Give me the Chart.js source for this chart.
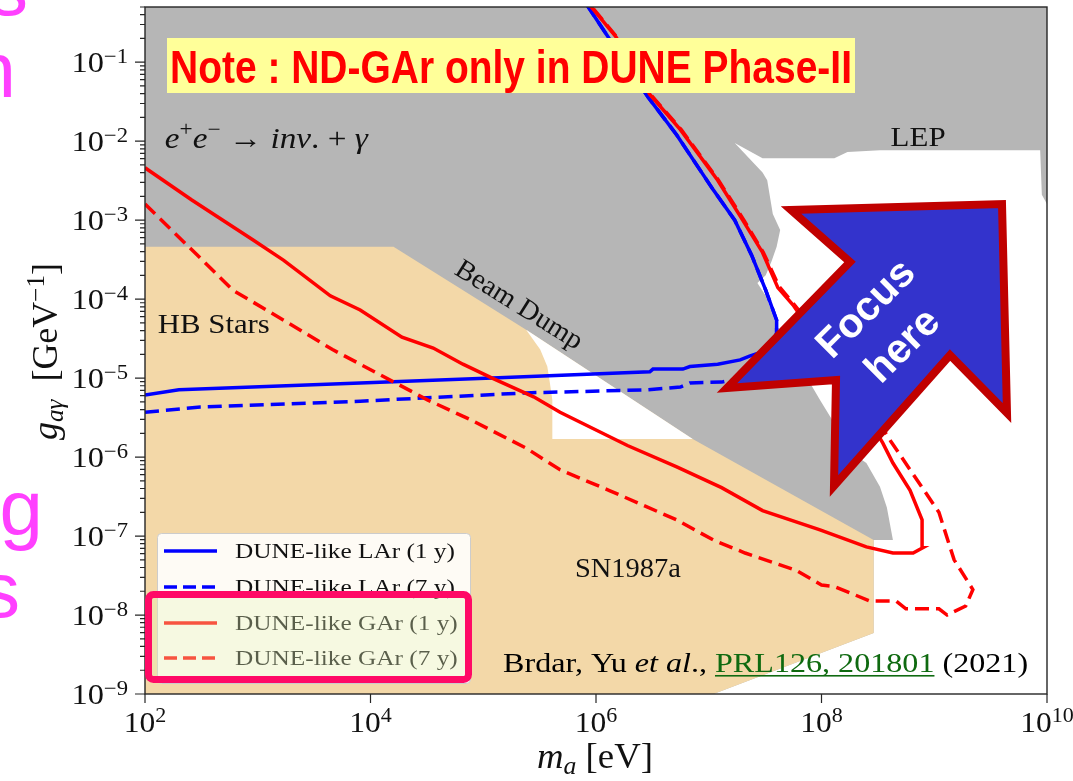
<!DOCTYPE html>
<html>
<head>
<meta charset="utf-8">
<title>DUNE-like axion reach</title>
<script src="https://cdn.jsdelivr.net/npm/chart.js@4.4.1/dist/chart.umd.min.js"></script>
<style>
  html, body { margin: 0; padding: 0; background: #fff; overflow: hidden; }
  canvas { display: block; }
</style>
</head>
<body>
<canvas id="reachChart" width="1073" height="781"></canvas>
<script>
// m_a in eV, g_agamma in GeV^-1

// DUNE-like LAr (1 y)
const larOneMass = [1.0e2, 2.0e2, 8.1e3, 1.2e5, 3.0e6, 3.2e6, 5.9e6, 6.8e6, 1.2e7, 1.9e7, 2.3e7, 3.4e7, 4.0e7, 4.0e7, 3.2e7, 2.4e7, 1.7e7, 1.1e7, 5.2e6, 2.9e6, 8.1e5];
const larOneCoupling = [6.1e-6, 7.1e-6, 8.7e-6, 1.0e-5, 1.2e-5, 1.3e-5, 1.3e-5, 1.4e-5, 1.5e-5, 1.7e-5, 1.9e-5, 2.3e-5, 3.7e-5, 5.4e-5, 1.3e-4, 3.6e-4, 1.0e-3, 2.4e-3, 1.2e-2, 3.6e-2, 0.56];

// DUNE-like LAr (7 y)
const larSevenMass = [1.0e2, 3.1e2, 8.1e3, 2.4e5, 2.8e6, 5.6e6, 6.8e6, 1.3e7, 1.9e7, 3.5e7, 4.0e7, 4.0e7, 3.2e7, 2.4e7, 1.7e7, 1.1e7, 5.2e6, 2.9e6, 8.1e5];
const larSevenCoupling = [3.7e-6, 4.3e-6, 5.1e-6, 6.5e-6, 7.1e-6, 7.7e-6, 8.7e-6, 8.9e-6, 1.0e-5, 1.7e-5, 3.7e-5, 5.4e-5, 1.3e-4, 3.6e-4, 1.0e-3, 2.4e-3, 1.2e-2, 3.6e-2, 0.56];

// DUNE-like GAr (1 y)
const garOneMass = [1.0e2, 2.6e2, 9.1e2, 1.7e3, 4.4e3, 8.1e3, 1.9e4, 3.6e4, 6.6e4, 1.2e5, 2.8e5, 4.8e5, 9.4e5, 1.9e6, 5.2e6, 1.3e7, 3.0e7, 9.7e7, 2.5e8, 4.3e8, 6.5e8, 7.9e8, 7.8e8, 6.1e8, 4.3e8, 3.5e8, 2.2e8, 1.2e8, 5.6e7, 4.1e7, 3.0e7, 2.0e7, 1.2e7, 5.6e6, 3.0e6, 1.5e6, 8.6e5];
const garOneCoupling = [4.6e-3, 1.8e-3, 5.6e-4, 3.1e-4, 1.1e-4, 7.3e-5, 3.3e-5, 2.4e-5, 1.5e-5, 1.0e-5, 5.8e-6, 3.7e-6, 2.3e-6, 1.4e-6, 7.5e-7, 4.1e-7, 2.1e-7, 1.2e-7, 7.3e-8, 6.1e-8, 6.1e-8, 7.1e-8, 1.6e-7, 3.8e-7, 8.4e-7, 1.5e-6, 4.6e-6, 1.7e-5, 8.4e-5, 1.4e-4, 3.9e-4, 1.0e-3, 3.2e-3, 1.4e-2, 3.9e-2, 0.21, 0.55];

// DUNE-like GAr (7 y)
const garSevenMass = [1.0e2, 3.1e2, 6.0e2, 1.7e3, 4.6e3, 8.1e3, 3.2e4, 7.6e4, 2.4e5, 4.8e5, 1.3e6, 5.2e6, 1.1e7, 2.1e7, 5.9e7, 1.0e8, 1.3e8, 2.7e8, 4.6e8, 5.6e8, 1.1e9, 1.3e9, 1.9e9, 2.2e9, 1.5e9, 1.1e9, 4.1e8, 2.4e8, 1.3e8, 5.7e7, 4.2e7, 3.05e7, 2.05e7, 1.22e7, 5.7e6, 3.05e6, 1.52e6, 8.7e5];
const garSevenCoupling = [1.6e-3, 3.3e-4, 1.3e-4, 5.4e-5, 2.3e-5, 1.5e-5, 5.3e-6, 3.0e-6, 1.3e-6, 6.9e-7, 3.8e-7, 1.6e-7, 8.9e-8, 6.1e-8, 3.7e-8, 2.4e-8, 2.3e-8, 1.5e-8, 1.5e-8, 1.2e-8, 1.2e-8, 1.0e-8, 1.3e-8, 2.1e-8, 5.0e-8, 2.0e-7, 1.6e-6, 5.3e-6, 2.0e-5, 8.6e-5, 1.45e-4, 3.9e-4, 1.0e-3, 3.2e-3, 1.4e-2, 3.9e-2, 0.21, 0.55];

// allowed (white) region right of beam dump / below LEP
const openMass = [1.7e7, 3.0e7, 1.3e8, 1.7e8, 3.3e8, 8.7e9, 9.0e9, 1e10, 1e10, 1.1e7, 2.9e8, 2.9e8, 4.3e8, 3.8e8, 3.3e8, 2.5e8, 1.9e8, 9.7e7, 5.3e7, 4.1e7, 3.7e7, 3.2e7, 2.7e7, 3.2e7, 3.6e7, 4.0e7, 4.3e7, 3.7e7, 3.3e7, 3.0e7];
const openCoupling = [9.5e-3, 6.1e-3, 6.1e-3, 7.3e-3, 7.7e-3, 7.7e-3, 2.1e-3, 1.6e-3, 1e-9, 1e-9, 5.9e-9, 8.9e-8, 8.9e-8, 2.3e-7, 4.2e-7, 8.4e-7, 1.1e-6, 5.3e-6, 2.3e-5, 4.1e-5, 6.3e-5, 1.1e-4, 1.6e-4, 2.0e-4, 3.0e-4, 4.6e-4, 7.5e-4, 1.2e-3, 3.2e-3, 4.0e-3];

// HB stars + SN1987a (tan)
const astroMass = [1e2, 1.6e4, 2.4e5, 7.2e6, 2.9e8, 2.9e8, 1.1e7, 1e2];
const astroCoupling = [4.6e-4, 4.6e-4, 4.1e-5, 1.7e-6, 8.9e-8, 5.9e-9, 1e-9, 1e-9];

// small allowed triangle between SN1987a and beam dump
const gapMass = [2.4e5, 3.2e5, 3.7e5, 3.9e5, 4.1e5, 4.1e5, 7.2e6];
const gapCoupling = [4.1e-5, 2.3e-5, 1.4e-5, 8.7e-6, 5.3e-6, 1.7e-6, 1.7e-6];

// ticks
const massTicks = [1e2, 1e4, 1e6, 1e8, 1e10];
const massTickExp = ['2', '4', '6', '8', '10'];
const couplingTicks = [1e-9, 1e-8, 1e-7, 1e-6, 1e-5, 1e-4, 1e-3, 1e-2, 1e-1];
const couplingTickExp = ['\u22129', '\u22128', '\u22127', '\u22126', '\u22125', '\u22124', '\u22123', '\u22122', '\u22121'];

// in-plot labels, anchored in data space
const regionLabels = [
    { text: 'HB Stars', m: 1.3e2, g: 3.7e-5, width: 112 },
    { text: 'SN1987a', m: 6.5e5, g: 3.0e-8, width: 106 },
    { text: 'LEP', m: 4.1e8, g: 8.7e-3, width: 55 },
];

const SERIF = '"Liberation Serif", "DejaVu Serif", serif';
const SANS = '"Liberation Sans", "DejaVu Sans", sans-serif';
const NARROW = '"Liberation Sans Narrow", "Liberation Sans", sans-serif';
const GRAY = '#b6b6b6';
const TAN = '#f3d8a8';

function toPoints(mass, coupling) {
    return mass.map((m, i) => ({ x: m, y: coupling[i] }));
}

function runFont(r, base) {
    const size = Math.round(base * (r.s || 1) * 10) / 10;
    return (r.it ? 'italic ' : '') + (r.bold ? 'bold ' : '') + size + 'px ' + (r.family || SERIF);
}

// draws a row of text pieces (sub/superscripts via dy), optionally stretched to a width
function drawRuns(ctx, runs, x, y, base, opt) {
    opt = opt || {};
    ctx.save();
    const widths = runs.map(r => { ctx.font = runFont(r, base); return ctx.measureText(r.t).width; });
    const total = widths.reduce((a, b) => a + b, 0);
    const sx = opt.width ? opt.width / total : (opt.sx || 1);
    const drawn = total * sx;
    ctx.translate(x, y);
    if (opt.rotate) ctx.rotate(opt.rotate);
    if (opt.align === 'center') ctx.translate(-drawn / 2, 0);
    else if (opt.align === 'right') ctx.translate(-drawn, 0);
    ctx.scale(sx, 1);
    ctx.textAlign = 'left';
    ctx.textBaseline = 'alphabetic';
    let cx = 0;
    runs.forEach((r, i) => {
        ctx.font = runFont(r, base);
        ctx.fillStyle = r.color || opt.color || '#111';
        ctx.fillText(r.t, cx, r.dy || 0);
        if (r.underline) ctx.fillRect(cx, 3, widths[i], 1.6);
        cx += widths[i];
    });
    ctx.restore();
}

const regionPlugin = {
    id: 'regions',
    beforeDatasetsDraw(chart) {
        const { ctx, chartArea: a, scales: { x, y } } = chart;
        const regions = [
            { mass: openMass, coupling: openCoupling, color: '#ffffff' },
            { mass: astroMass, coupling: astroCoupling, color: TAN },
            { mass: gapMass, coupling: gapCoupling, color: '#ffffff' },
        ];
        ctx.save();
        ctx.beginPath();
        ctx.rect(a.left, a.top, a.width, a.height);
        ctx.clip();
        ctx.fillStyle = GRAY;
        ctx.fillRect(a.left, a.top, a.width, a.height);
        regions.forEach(r => {
            ctx.beginPath();
            r.mass.forEach((m, i) => {
                const px = x.getPixelForValue(m);
                const py = y.getPixelForValue(r.coupling[i]);
                if (i === 0) ctx.moveTo(px, py); else ctx.lineTo(px, py);
            });
            ctx.closePath();
            ctx.fillStyle = r.color;
            ctx.fill();
        });
        ctx.restore();
    }
};

function drawAxes(chart) {
    const { ctx, chartArea: a, scales: { x, y } } = chart;
    ctx.save();
    ctx.strokeStyle = '#262626';
    ctx.lineWidth = 1.4;
    ctx.strokeRect(a.left, a.top, a.width, a.height);

    ctx.beginPath();
    ctx.lineWidth = 1.2;
    couplingTicks.forEach(v => {
        const py = y.getPixelForValue(v);
        ctx.moveTo(a.left - 10, py); ctx.lineTo(a.left, py);
        for (let j = 2; j <= 9; j++) {
            const mv = j * v;
            if (mv > y.max) break;
            const pm = y.getPixelForValue(mv);
            ctx.moveTo(a.left - 5, pm); ctx.lineTo(a.left, pm);
        }
    });
    massTicks.forEach(v => {
        const px = x.getPixelForValue(v);
        ctx.moveTo(px, a.bottom); ctx.lineTo(px, a.bottom + 9);
    });
    ctx.stroke();
    ctx.restore();

    couplingTicks.forEach((v, i) => {
        const py = y.getPixelForValue(v);
        drawRuns(ctx, [{ t: '10' }, { t: couplingTickExp[i], s: 0.7, dy: -9 }], a.left - 17, py + 10, 30, { align: 'right', sx: 1.08 });
    });
    massTicks.forEach((v, i) => {
        const px = x.getPixelForValue(v);
        drawRuns(ctx, [{ t: '10' }, { t: massTickExp[i], s: 0.7, dy: -10 }], px, a.bottom + 38, 30, { align: 'center', sx: 1.05 });
    });

    // axis titles
    drawRuns(ctx, [{ t: 'm', it: true }, { t: 'a', it: true, s: 0.7, dy: 6 }, { t: ' [eV]' }],
        537, 768, 35, { width: 116 });
    drawRuns(ctx, [{ t: 'g', it: true }, { t: 'a\u03b3', it: true, s: 0.7, dy: 6 }, { t: '  [GeV' },
        { t: '\u22121', s: 0.7, dy: -13 }, { t: ']' }],
        57, 440, 35, { width: 177, rotate: -Math.PI / 2 });
}

function drawPlotText(chart) {
    const { ctx, scales: { x, y } } = chart;
    regionLabels.forEach(l => {
        drawRuns(ctx, [{ t: l.text }], x.getPixelForValue(l.m), y.getPixelForValue(l.g), 28, { width: l.width });
    });
    drawRuns(ctx, [{ t: 'e', it: true }, { t: '+', s: 0.7, dy: -12 }, { t: 'e', it: true }, { t: '\u2212', s: 0.7, dy: -12 },
        { t: ' \u2192 ' }, { t: 'inv', it: true }, { t: '. + ' }, { t: '\u03b3', it: true }],
        x.getPixelForValue(1.5e2), y.getPixelForValue(8.2e-3), 30, { width: 203 });
    drawRuns(ctx, [{ t: 'Beam Dump' }], x.getPixelForValue(1.9e5), y.getPixelForValue(6.9e-5), 28,
        { width: 145, align: 'center', rotate: 32 * Math.PI / 180 });
    drawRuns(ctx, [{ t: 'Brdar, Yu ' }, { t: 'et al', it: true }, { t: '., ' },
        { t: 'PRL126, 201801', color: '#0f6a10', underline: true }, { t: ' (2021)' }],
        x.getPixelForValue(1.5e5), y.getPixelForValue(1.9e-9), 28, { width: 525, color: '#000' });
}

function drawLegend(chart) {
    const ctx = chart.ctx;
    const rows = [551, 587, 623, 658];
    ctx.save();
    ctx.beginPath();
    ctx.roundRect(157.5, 533.5, 313, 150, 4);
    ctx.fillStyle = 'rgba(255,255,255,0.88)';
    ctx.fill();
    ctx.strokeStyle = '#cccccc';
    ctx.lineWidth = 1;
    ctx.stroke();
    chart.data.datasets.forEach((ds, i) => {
        ctx.beginPath();
        ctx.strokeStyle = ds.borderColor;
        ctx.lineWidth = 3.5;
        ctx.setLineDash(ds.borderDash ? [13, 6] : []);
        ctx.moveTo(164, rows[i]);
        ctx.lineTo(217, rows[i]);
        ctx.stroke();
        ctx.setLineDash([]);
        drawRuns(ctx, [{ t: ds.label }], 235, rows[i] + 7, 22, { sx: 1.15, color: '#111' });
    });
    ctx.restore();

    // highlight box around the GAr entries
    ctx.save();
    ctx.beginPath();
    ctx.roundRect(148.5, 594.5, 320, 85, 5);
    ctx.fillStyle = 'rgba(233,246,188,0.34)';
    ctx.fill();
    ctx.strokeStyle = '#ff0a66';
    ctx.lineWidth = 7;
    ctx.stroke();
    ctx.restore();
}

function drawSlideOverlays(chart) {
    const ctx = chart.ctx;
    ctx.save();
    // note banner
    ctx.fillStyle = '#ffff99';
    ctx.fillRect(167, 38, 688, 55);
    drawRuns(ctx, [{ t: 'Note : ND-GAr only in DUNE Phase-II', bold: true, family: NARROW }], 170, 83, 46,
        { width: 682, color: '#ff0000' });

    // "Focus here" arrow
    const arrow = [[1002, 204], [1007, 413], [950, 355], [834, 486], [836, 380], [727, 388], [850, 262], [791, 210]];
    ctx.beginPath();
    arrow.forEach((p, i) => { if (i === 0) ctx.moveTo(p[0], p[1]); else ctx.lineTo(p[0], p[1]); });
    ctx.closePath();
    ctx.fillStyle = '#3333cc';
    ctx.fill();
    ctx.lineJoin = 'miter';
    ctx.strokeStyle = '#c00000';
    ctx.lineWidth = 8;
    ctx.stroke();

    ctx.translate(885, 328);
    ctx.rotate(-Math.PI / 4);
    ctx.fillStyle = '#ffffff';
    ctx.font = 'bold 41px ' + SANS;
    ctx.textAlign = 'center';
    ctx.textBaseline = 'middle';
    ctx.fillText('Focus', 0, -26);
    ctx.fillText('here', 0, 26);
    ctx.restore();

    // bits of the slide text behind the figure
    ctx.save();
    ctx.fillStyle = '#ff40ff';
    ctx.font = '78px ' + SANS;
    ctx.textAlign = 'right';
    ctx.textBaseline = 'alphabetic';
    ctx.fillText('s', 28, 15);
    ctx.fillText('n', 16, 97);
    ctx.fillText('ng', 43, 535);
    ctx.fillText('s', 20, 617);
    ctx.restore();
}

const overlayPlugin = {
    id: 'overlays',
    afterDraw(chart) {
        drawAxes(chart);
        drawPlotText(chart);
        drawLegend(chart);
        drawSlideOverlays(chart);
    }
};

const ctx = document.getElementById('reachChart').getContext('2d');

const chart = new Chart(ctx, {
    type: 'scatter',
    data: {
        datasets: [
            {
                label: 'DUNE-like LAr (1 y)',
                data: toPoints(larOneMass, larOneCoupling),
                borderColor: '#0000ff',
                borderWidth: 3.5,
                showLine: true,
                pointRadius: 0,
                order: 2
            },
            {
                label: 'DUNE-like LAr (7 y)',
                data: toPoints(larSevenMass, larSevenCoupling),
                borderColor: '#0000ff',
                borderWidth: 3.5,
                borderDash: [14, 7],
                showLine: true,
                pointRadius: 0,
                order: 3
            },
            {
                label: 'DUNE-like GAr (1 y)',
                data: toPoints(garOneMass, garOneCoupling),
                borderColor: '#ff0000',
                borderWidth: 3.5,
                showLine: true,
                pointRadius: 0,
                order: 0
            },
            {
                label: 'DUNE-like GAr (7 y)',
                data: toPoints(garSevenMass, garSevenCoupling),
                borderColor: '#ff0000',
                borderWidth: 3.5,
                borderDash: [14, 7],
                showLine: true,
                pointRadius: 0,
                order: 1
            }
        ]
    },
    options: {
        responsive: false,
        animation: false,
        devicePixelRatio: 1,
        events: [],
        layout: { padding: { top: 7, right: 26, left: 0, bottom: 0 } },
        scales: {
            x: {
                type: 'logarithmic',
                min: 1e2,
                max: 1e10,
                grid: { display: false },
                border: { display: false },
                ticks: { display: false },
                afterFit: s => { s.height = 87; }
            },
            y: {
                type: 'logarithmic',
                min: 1e-9,
                max: 0.5,
                grid: { display: false },
                border: { display: false },
                ticks: { display: false },
                afterFit: s => { s.width = 145; }
            }
        },
        plugins: {
            legend: { display: false },
            tooltip: { enabled: false }
        }
    },
    plugins: [regionPlugin, overlayPlugin]
});
</script>
</body>
</html>
